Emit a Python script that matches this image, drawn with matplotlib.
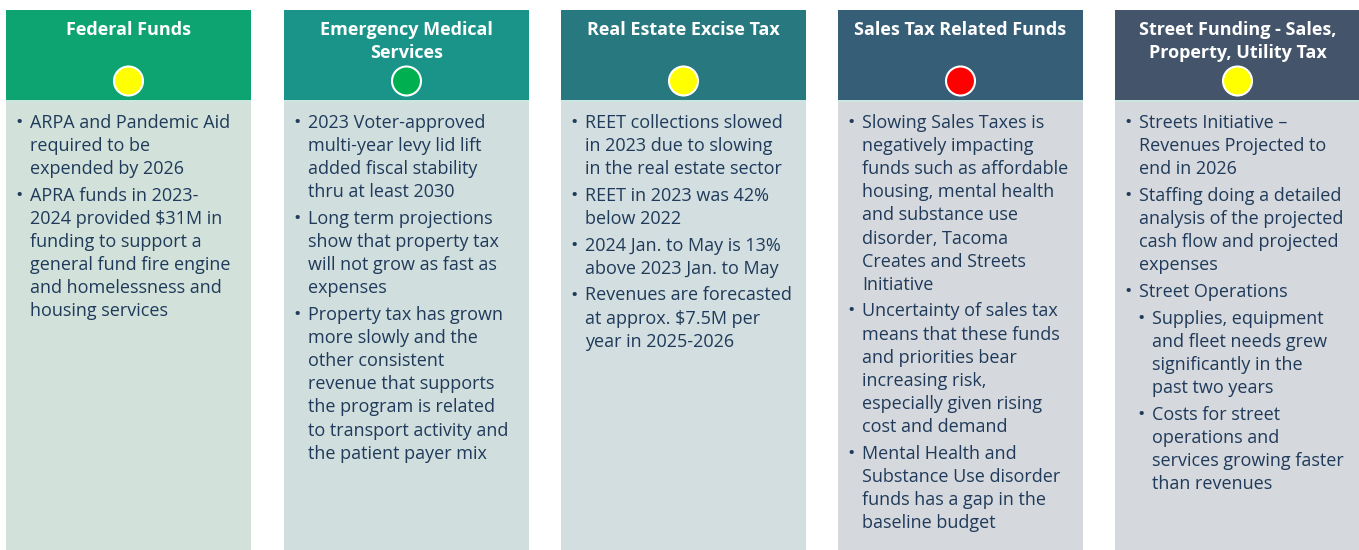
import matplotlib.pyplot as plt
from matplotlib.patches import Rectangle, Circle

plt.rcParams['font.family'] = ['Open Sans', 'DejaVu Sans']

# card titles (pre-wrapped as on the slide)
titles = [
    ["Federal Funds"],
    ["Emergency Medical", "Services"],
    ["Real Estate Excise Tax"],
    ["Sales Tax Related Funds"],
    ["Street Funding - Sales,", "Property, Utility Tax"],
]

# status light per card
status = ["#FFFF00", "#00B050", "#FFFF00", "#FF0000", "#FFFF00"]

header_colors = ["#0EA472", "#1A9489", "#27787F", "#375E77", "#44546A"]
body_colors = ["#D2E2DA", "#D1DEDE", "#D2DEDF", "#D5D9DD", "#D5D8DC"]

# bullets: (indent level, wrapped lines)
bullets = [
    [
        (0, ["ARPA and Pandemic Aid", "required to be", "expended by 2026"]),
        (0, ["APRA funds in 2023-", "2024 provided $31M in", "funding to support a",
             "general fund fire engine", "and homelessness and", "housing services"]),
    ],
    [
        (0, ["2023 Voter-approved", "multi-year levy lid lift", "added fiscal stability",
             "thru at least 2030"]),
        (0, ["Long term projections", "show that property tax", "will not grow as fast as",
             "expenses"]),
        (0, ["Property tax has grown", "more slowly and the", "other consistent",
             "revenue that supports", "the program is related", "to transport activity and",
             "the patient payer mix"]),
    ],
    [
        (0, ["REET collections slowed", "in 2023 due to slowing", "in the real estate sector"]),
        (0, ["REET in 2023 was 42%", "below 2022"]),
        (0, ["2024 Jan. to May is 13%", "above 2023 Jan. to May"]),
        (0, ["Revenues are forecasted", "at approx. $7.5M per", "year in 2025-2026"]),
    ],
    [
        (0, ["Slowing Sales Taxes is", "negatively impacting", "funds such as affordable",
             "housing, mental health", "and substance use", "disorder, Tacoma",
             "Creates and Streets", "Initiative"]),
        (0, ["Uncertainty of sales tax", "means that these funds", "and priorities bear",
             "increasing risk,", "especially given rising", "cost and demand"]),
        (0, ["Mental Health and", "Substance Use disorder", "funds has a gap in the",
             "baseline budget"]),
    ],
    [
        (0, ["Streets Initiative \u2013", "Revenues Projected to", "end in 2026"]),
        (0, ["Staffing doing a detailed", "analysis of the projected", "cash flow and projected",
             "expenses"]),
        (0, ["Street Operations"]),
        (1, ["Supplies, equipment", "and fleet needs grew", "significantly in the",
             "past two years"]),
        (1, ["Costs for street", "operations and", "services growing faster",
             "than revenues"]),
    ],
]

W, H = 1359, 550
fig = plt.figure(figsize=(W / 100, H / 100), dpi=100)
ax = fig.add_axes([0, 0, 1, 1])
ax.set_xlim(0, W)
ax.set_ylim(H, 0)
ax.axis('off')

card_x = [6, 284, 561, 838, 1115]
card_w = 245
top, head_bot = 10, 100
line_h = 23.1
para_gap = 3.6
text_color = "#1F3A5A"

for i in range(len(titles)):
    x0 = card_x[i]
    ax.add_patch(Rectangle((x0, top), card_w, head_bot - top, facecolor=header_colors[i],
                           edgecolor='none'))
    ax.add_patch(Rectangle((x0, head_bot), card_w, 2, facecolor='#A9D6CB',
                           edgecolor='none', alpha=0.6))
    ax.add_patch(Rectangle((x0, head_bot + 2), card_w, H - head_bot, facecolor=body_colors[i],
                           edgecolor='none'))
    cx = x0 + card_w / 2
    for k, t in enumerate(titles[i]):
        ax.text(cx, 35 + k * 22.5, t, ha='center', va='baseline', color='white',
                fontsize=13, fontweight='bold')
    ax.add_patch(Circle((cx, 81), 14.5, facecolor=status[i], edgecolor='white', linewidth=1.5,
                        zorder=3))

    y = 128
    for level, lines in bullets[i]:
        bx = x0 + 9 + level * 13
        tx = bx + 15
        ax.text(bx, y, "\u2022", ha='left', va='baseline', color=text_color, fontsize=14)
        for line in lines:
            ax.text(tx, y, line, ha='left', va='baseline', color=text_color, fontsize=13)
            y += line_h
        y += para_gap

fig.savefig('out.png', dpi=100)
